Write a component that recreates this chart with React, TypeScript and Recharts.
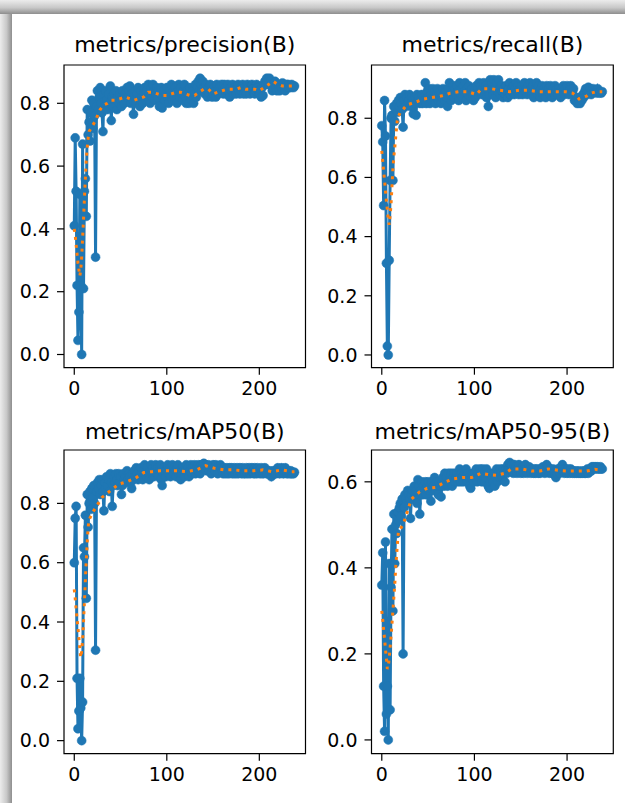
import React from 'react';
import { LineChart, Line, XAxis, YAxis, ReferenceArea } from 'recharts';

const FONT = '"DejaVu Sans", "Liberation Sans", sans-serif';
const BLUE = '#1f77b4';
const ORANGE = '#ff7f0e';

// epochs 0..238
const EPOCHS: number[] = Array.from({ length: 239 }, (_, i) => i);
const X_TICKS = [0, 100, 200];

const PRECISION = [
  0.41, 0.69, 0.52, 0.22, 0.045, 0.135, 0.51, 0.22, 0.0, 0.67,
  0.21, 0.52, 0.56, 0.44, 0.78, 0.70, 0.74, 0.68, 0.77, 0.81,
  0.72, 0.80, 0.76, 0.31, 0.79, 0.84, 0.78, 0.82, 0.85, 0.80,
  0.77, 0.71, 0.83, 0.79, 0.84, 0.81, 0.78, 0.83, 0.80, 0.855,
  0.745, 0.82, 0.79, 0.83, 0.81, 0.84, 0.78, 0.82, 0.80, 0.83,
  0.81, 0.79, 0.84, 0.82, 0.80, 0.83, 0.81, 0.85, 0.82, 0.84,
  0.855, 0.80, 0.83, 0.81, 0.765, 0.82, 0.84, 0.80, 0.83, 0.85,
  0.81, 0.79, 0.84, 0.82, 0.80, 0.83, 0.85, 0.81, 0.84, 0.82,
  0.86, 0.83, 0.80, 0.85, 0.82, 0.86, 0.84, 0.81, 0.83, 0.85,
  0.82, 0.84, 0.79, 0.83, 0.85, 0.785, 0.82, 0.84, 0.81, 0.83,
  0.85, 0.82, 0.80, 0.84, 0.83, 0.86, 0.81, 0.84, 0.82, 0.85,
  0.83, 0.80, 0.84, 0.86, 0.82, 0.85, 0.83, 0.81, 0.84, 0.86,
  0.82, 0.80, 0.84, 0.83, 0.80, 0.85, 0.82, 0.81, 0.84, 0.80,
  0.83, 0.86, 0.82, 0.85, 0.87, 0.84, 0.88, 0.86, 0.84, 0.87,
  0.85, 0.83, 0.86, 0.84, 0.82, 0.85, 0.83, 0.86, 0.84, 0.82,
  0.83, 0.85, 0.84, 0.82, 0.86, 0.84, 0.83, 0.85, 0.84, 0.86,
  0.84, 0.83, 0.86, 0.85, 0.83, 0.84, 0.86, 0.84, 0.82, 0.85,
  0.84, 0.86, 0.83, 0.85, 0.84, 0.83, 0.85, 0.86, 0.84, 0.83,
  0.85, 0.84, 0.86, 0.83, 0.85, 0.84, 0.83, 0.86, 0.85, 0.84,
  0.83, 0.85, 0.86, 0.84, 0.85, 0.83, 0.84, 0.86, 0.85, 0.84,
  0.83, 0.84, 0.82, 0.85, 0.825, 0.86, 0.87, 0.86, 0.88, 0.87,
  0.86, 0.88, 0.87, 0.86, 0.84, 0.85, 0.86, 0.87, 0.85, 0.84,
  0.86, 0.85, 0.84, 0.86, 0.85, 0.865, 0.86, 0.85, 0.84, 0.86,
  0.85, 0.86, 0.85, 0.855, 0.85, 0.86, 0.855, 0.85, 0.855,
];
const PRECISION_SMOOTH_X = [0, 1, 2, 3, 4, 5, 6, 7, 8, 9, 10, 11, 12, 13, 14, 15, 16, 18, 20, 22, 25, 28, 32, 36, 40, 45, 50, 55, 60, 65, 70, 75, 80, 85, 90, 95, 100, 105, 110, 115, 120, 125, 130, 135, 140, 145, 150, 155, 160, 165, 170, 175, 180, 185, 190, 195, 200, 205, 210, 215, 220, 225, 230, 235, 238];
const PRECISION_SMOOTH_Y = [0.40, 0.38, 0.35, 0.32, 0.29, 0.27, 0.25, 0.27, 0.31, 0.37, 0.43, 0.50, 0.56, 0.62, 0.66, 0.69, 0.71, 0.72, 0.73, 0.74, 0.76, 0.78, 0.795, 0.80, 0.81, 0.81, 0.815, 0.82, 0.815, 0.81, 0.815, 0.82, 0.835, 0.835, 0.83, 0.825, 0.825, 0.83, 0.835, 0.835, 0.83, 0.825, 0.825, 0.835, 0.845, 0.845, 0.83, 0.835, 0.84, 0.845, 0.845, 0.845, 0.85, 0.845, 0.845, 0.845, 0.84, 0.85, 0.86, 0.87, 0.86, 0.855, 0.855, 0.855, 0.855];

const RECALL = [
  0.775, 0.72, 0.505, 0.86, 0.74, 0.31, 0.03, 0.0, 0.32, 0.59,
  0.80, 0.81, 0.59, 0.84, 0.79, 0.83, 0.85, 0.82, 0.86, 0.84,
  0.87, 0.85, 0.83, 0.77, 0.86, 0.88, 0.84, 0.87, 0.85, 0.86,
  0.88, 0.84, 0.87, 0.86, 0.815, 0.85, 0.87, 0.81, 0.88, 0.86,
  0.87, 0.85, 0.86, 0.88, 0.85, 0.87, 0.86, 0.92, 0.85, 0.89,
  0.87, 0.90, 0.85, 0.88, 0.86, 0.90, 0.87, 0.89, 0.85, 0.88,
  0.90, 0.86, 0.88, 0.89, 0.85, 0.87, 0.90, 0.88, 0.86, 0.89,
  0.87, 0.84, 0.90, 0.92, 0.88, 0.86, 0.89, 0.91, 0.87, 0.90,
  0.88, 0.91, 0.89, 0.86, 0.92, 0.88, 0.90, 0.87, 0.91, 0.89,
  0.92, 0.86, 0.90, 0.88, 0.91, 0.89, 0.87, 0.90, 0.88, 0.86,
  0.89, 0.87, 0.91, 0.88, 0.90, 0.92, 0.89, 0.91, 0.88, 0.90,
  0.92, 0.89, 0.91, 0.87, 0.90, 0.84, 0.88, 0.93, 0.90, 0.92,
  0.88, 0.93, 0.90, 0.87, 0.92, 0.89, 0.93, 0.90, 0.88, 0.91,
  0.89, 0.87, 0.90, 0.88, 0.91, 0.89, 0.87, 0.90, 0.92, 0.88,
  0.90, 0.89, 0.91, 0.88, 0.90, 0.92, 0.89, 0.91, 0.88, 0.90,
  0.89, 0.91, 0.88, 0.90, 0.92, 0.89, 0.90, 0.88, 0.91, 0.89,
  0.92, 0.90, 0.88, 0.91, 0.87, 0.89, 0.90, 0.92, 0.88, 0.91,
  0.89, 0.87, 0.90, 0.91, 0.88, 0.90, 0.89, 0.87, 0.91, 0.89,
  0.90, 0.88, 0.91, 0.89, 0.87, 0.90, 0.88, 0.91, 0.89, 0.90,
  0.88, 0.90, 0.89, 0.87, 0.90, 0.89, 0.91, 0.88, 0.90, 0.89,
  0.91, 0.89, 0.88, 0.90, 0.91, 0.90, 0.89, 0.90, 0.86, 0.87,
  0.86, 0.85, 0.87, 0.86, 0.85, 0.87, 0.86, 0.88, 0.87, 0.89,
  0.90, 0.88, 0.89, 0.905, 0.89, 0.90, 0.88, 0.895, 0.90, 0.89,
  0.895, 0.89, 0.885, 0.90, 0.89, 0.885, 0.89, 0.885, 0.89,
];
const RECALL_SMOOTH_X = [0, 1, 2, 3, 4, 5, 6, 7, 8, 9, 10, 11, 12, 13, 14, 15, 16, 17, 20, 23, 27, 32, 37, 45, 54, 64, 74, 84, 93, 102, 108, 118, 127, 138, 149, 158, 167, 178, 187, 198, 206, 210, 213, 217, 221, 226, 232, 238];
const RECALL_SMOOTH_Y = [0.69, 0.655, 0.62, 0.59, 0.555, 0.52, 0.49, 0.46, 0.44, 0.47, 0.51, 0.57, 0.63, 0.67, 0.70, 0.735, 0.77, 0.80, 0.82, 0.83, 0.845, 0.85, 0.855, 0.865, 0.87, 0.875, 0.885, 0.89, 0.89, 0.88, 0.90, 0.90, 0.895, 0.89, 0.895, 0.895, 0.89, 0.89, 0.89, 0.89, 0.885, 0.875, 0.865, 0.87, 0.875, 0.885, 0.89, 0.89];

const MAP50 = [
  0.60, 0.75, 0.79, 0.21, 0.04, 0.10, 0.21, 0.11, 0.0, 0.13,
  0.65, 0.62, 0.76, 0.48, 0.83, 0.72, 0.80, 0.84, 0.78, 0.85,
  0.82, 0.86, 0.80, 0.305, 0.84, 0.87, 0.85, 0.88, 0.83, 0.86,
  0.88, 0.84, 0.775, 0.87, 0.85, 0.89, 0.86, 0.88, 0.84, 0.90,
  0.87, 0.79, 0.86, 0.89, 0.87, 0.90, 0.88, 0.86, 0.90, 0.87,
  0.89, 0.83, 0.86, 0.90, 0.88, 0.89, 0.87, 0.91, 0.88, 0.90,
  0.89, 0.87, 0.85, 0.90, 0.88, 0.91, 0.89, 0.92, 0.90, 0.88,
  0.91, 0.89, 0.92, 0.90, 0.88, 0.91, 0.93, 0.90, 0.89, 0.92,
  0.90, 0.88, 0.91, 0.93, 0.90, 0.92, 0.89, 0.91, 0.93, 0.90,
  0.92, 0.89, 0.91, 0.93, 0.88, 0.86, 0.90, 0.92, 0.91, 0.89,
  0.91, 0.93, 0.90, 0.92, 0.89, 0.91, 0.93, 0.90, 0.92, 0.91,
  0.89, 0.92, 0.93, 0.90, 0.91, 0.88, 0.90, 0.92, 0.91, 0.89,
  0.91, 0.93, 0.90, 0.92, 0.89, 0.91, 0.93, 0.90, 0.92, 0.91,
  0.93, 0.90, 0.92, 0.91, 0.93, 0.92, 0.90, 0.93, 0.92, 0.93,
  0.935, 0.92, 0.93, 0.91, 0.92, 0.93, 0.91, 0.92, 0.90, 0.92,
  0.93, 0.92, 0.91, 0.93, 0.92, 0.90, 0.92, 0.91, 0.93, 0.92,
  0.91, 0.90, 0.92, 0.91, 0.90, 0.92, 0.91, 0.90, 0.92, 0.91,
  0.92, 0.90, 0.91, 0.92, 0.90, 0.91, 0.92, 0.90, 0.91, 0.92,
  0.91, 0.90, 0.92, 0.91, 0.90, 0.91, 0.92, 0.90, 0.91, 0.92,
  0.90, 0.91, 0.92, 0.91, 0.90, 0.92, 0.91, 0.90, 0.92, 0.91,
  0.91, 0.90, 0.92, 0.91, 0.90, 0.91, 0.92, 0.91, 0.90, 0.91,
  0.90, 0.91, 0.90, 0.89, 0.90, 0.91, 0.90, 0.91, 0.90, 0.91,
  0.92, 0.91, 0.90, 0.91, 0.92, 0.91, 0.90, 0.91, 0.92, 0.91,
  0.90, 0.91, 0.905, 0.90, 0.91, 0.90, 0.905, 0.90, 0.905,
];
const MAP50_SMOOTH_X = [0, 1, 2, 3, 4, 5, 6, 7, 8, 9, 10, 11, 12, 13, 14, 15, 16, 20, 24, 30, 38, 48, 57, 66, 75, 84, 93, 103, 112, 122, 132, 142, 152, 162, 172, 183, 194, 204, 214, 224, 235, 238];
const MAP50_SMOOTH_Y = [0.51, 0.48, 0.445, 0.41, 0.38, 0.345, 0.31, 0.28, 0.30, 0.34, 0.40, 0.47, 0.54, 0.61, 0.67, 0.72, 0.745, 0.77, 0.79, 0.82, 0.84, 0.865, 0.873, 0.885, 0.904, 0.907, 0.91, 0.91, 0.91, 0.907, 0.913, 0.927, 0.918, 0.913, 0.913, 0.91, 0.91, 0.913, 0.907, 0.913, 0.907, 0.907];

const MAP5095 = [
  0.36, 0.435, 0.125, 0.02, 0.46, 0.06, 0.125, 0.0, 0.41, 0.07,
  0.355, 0.49, 0.30, 0.525, 0.41, 0.50, 0.48, 0.53, 0.51, 0.54,
  0.55, 0.52, 0.56, 0.20, 0.54, 0.57, 0.56, 0.55, 0.58, 0.57,
  0.56, 0.515, 0.57, 0.58, 0.56, 0.59, 0.57, 0.58, 0.55, 0.605,
  0.59, 0.525, 0.58, 0.60, 0.57, 0.59, 0.58, 0.60, 0.57, 0.59,
  0.60, 0.58, 0.59, 0.555, 0.60, 0.58, 0.59, 0.61, 0.58, 0.60,
  0.59, 0.57, 0.60, 0.59, 0.565, 0.60, 0.61, 0.59, 0.62, 0.60,
  0.61, 0.59, 0.62, 0.60, 0.61, 0.62, 0.59, 0.61, 0.62, 0.60,
  0.61, 0.62, 0.60, 0.61, 0.63, 0.60, 0.62, 0.61, 0.60, 0.62,
  0.61, 0.63, 0.60, 0.62, 0.61, 0.59, 0.585, 0.61, 0.62, 0.60,
  0.62, 0.61, 0.63, 0.60, 0.62, 0.61, 0.63, 0.62, 0.60, 0.63,
  0.62, 0.60, 0.61, 0.63, 0.62, 0.59, 0.585, 0.60, 0.62, 0.61,
  0.60, 0.62, 0.59, 0.61, 0.63, 0.60, 0.62, 0.61, 0.63, 0.62,
  0.61, 0.63, 0.62, 0.60, 0.63, 0.62, 0.64, 0.63, 0.645, 0.63,
  0.64, 0.63, 0.62, 0.64, 0.63, 0.635, 0.62, 0.63, 0.64, 0.63,
  0.62, 0.63, 0.635, 0.62, 0.63, 0.64, 0.63, 0.62, 0.63, 0.635,
  0.63, 0.62, 0.63, 0.625, 0.62, 0.63, 0.62, 0.63, 0.625, 0.62,
  0.63, 0.62, 0.625, 0.63, 0.635, 0.63, 0.62, 0.63, 0.64, 0.635,
  0.63, 0.62, 0.63, 0.625, 0.62, 0.63, 0.62, 0.615, 0.61, 0.62,
  0.63, 0.625, 0.62, 0.63, 0.635, 0.64, 0.63, 0.62, 0.63, 0.625,
  0.62, 0.63, 0.625, 0.62, 0.63, 0.625, 0.62, 0.625, 0.62, 0.625,
  0.62, 0.625, 0.62, 0.625, 0.62, 0.62, 0.625, 0.62, 0.625, 0.62,
  0.62, 0.625, 0.63, 0.62, 0.625, 0.63, 0.625, 0.635, 0.63, 0.635,
  0.63, 0.635, 0.63, 0.635, 0.63, 0.63, 0.635, 0.63, 0.63,
];
const MAP5095_SMOOTH_X = [0, 1, 2, 3, 4, 5, 6, 7, 8, 9, 10, 11, 12, 13, 14, 15, 16, 17, 18, 23, 26, 32, 41, 49, 58, 67, 77, 87, 97, 107, 115, 124, 133, 140, 151, 162, 171, 180, 190, 201, 211, 221, 230, 238];
const MAP5095_SMOOTH_Y = [0.30, 0.28, 0.255, 0.235, 0.21, 0.19, 0.165, 0.17, 0.19, 0.215, 0.24, 0.27, 0.30, 0.33, 0.36, 0.40, 0.43, 0.46, 0.485, 0.50, 0.52, 0.56, 0.577, 0.585, 0.587, 0.598, 0.607, 0.61, 0.61, 0.62, 0.617, 0.615, 0.62, 0.63, 0.63, 0.625, 0.625, 0.63, 0.627, 0.625, 0.625, 0.625, 0.629, 0.627];

const toPoints = (xs: number[], ys: number[]) => xs.map((x, i) => ({ x, y: ys[i] }));

type PanelProps = {
  left: number;
  top: number;
  yAxisWidth: number;
  plotWidth: number;
  plotTop: number;
  plotHeight: number;
  title: string;
  titleBaseline: number;
  values: number[];
  smoothX: number[];
  smoothY: number[];
  yDomain: [number, number];
  yTicks: number[];
  xDomain: [number, number];
};

const TICK_STYLE = { fill: '#000', fontSize: 19, fontFamily: FONT };
const X_AXIS_HEIGHT = 40;
const RIGHT_PAD = 4;

function Axes({ p, show }: { p: PanelProps; show: boolean }) {
  return [
    <XAxis
      key="x"
      dataKey="x"
      type="number"
      domain={p.xDomain}
      ticks={X_TICKS}
      allowDataOverflow
      height={X_AXIS_HEIGHT}
      axisLine={false}
      tickLine={show ? { stroke: '#000', strokeWidth: 1.2 } : false}
      tickSize={7}
      tickMargin={7}
      tick={show ? TICK_STYLE : false}
      interval={0}
    />,
    <YAxis
      key="y"
      type="number"
      domain={p.yDomain}
      ticks={p.yTicks}
      allowDataOverflow
      width={p.yAxisWidth}
      axisLine={false}
      tickLine={show ? { stroke: '#000', strokeWidth: 1.2 } : false}
      tickSize={7}
      tickMargin={7}
      tick={show ? TICK_STYLE : false}
      tickFormatter={(v: number) => v.toFixed(1)}
      interval={0}
    />,
  ];
}

function Panel(p: PanelProps) {
  const width = p.yAxisWidth + p.plotWidth + RIGHT_PAD;
  const height = p.plotTop + p.plotHeight + X_AXIS_HEIGHT;
  const data = toPoints(EPOCHS, p.values);
  const smooth = toPoints(p.smoothX, p.smoothY);
  const titleSize = 22;
  const margin = { top: p.plotTop, right: RIGHT_PAD, bottom: 0, left: 0 };
  const layer: React.CSSProperties = { position: 'absolute', left: 0, top: 0 };
  return (
    <div style={{ position: 'absolute', left: p.left, top: p.top, width, height }}>
      <div
        style={{
          position: 'absolute',
          left: p.yAxisWidth,
          width: p.plotWidth,
          top: p.titleBaseline - titleSize * 0.846,
          fontSize: titleSize,
          lineHeight: `${titleSize}px`,
          fontFamily: FONT,
          color: '#000',
          textAlign: 'center',
          whiteSpace: 'nowrap',
        }}
      >
        {p.title}
      </div>
      <div style={layer}>
        <LineChart width={width} height={height} margin={margin}>
          {Axes({ p, show: true })}
          <Line
            data={data}
            dataKey="y"
            type="linear"
            stroke={BLUE}
            strokeWidth={3}
            dot={{ r: 4.5, fill: BLUE, stroke: BLUE, strokeWidth: 0.5 }}
            activeDot={false}
            isAnimationActive={false}
          />
        </LineChart>
      </div>
      <div style={layer}>
        <LineChart width={width} height={height} margin={margin}>
          {Axes({ p, show: false })}
          <Line
            data={smooth}
            dataKey="y"
            type="linear"
            stroke={ORANGE}
            strokeWidth={3}
            strokeDasharray="3 5"
            dot={false}
            activeDot={false}
            isAnimationActive={false}
          />
          <ReferenceArea
            x1={p.xDomain[0]}
            x2={p.xDomain[1]}
            y1={p.yDomain[0]}
            y2={p.yDomain[1]}
            fill="none"
            stroke="#000"
            strokeWidth={1.2}
            ifOverflow="visible"
          />
        </LineChart>
      </div>
    </div>
  );
}

const X_DOMAIN: [number, number] = [-11.1, 249.9];
const Y_TICKS_A = [0, 0.2, 0.4, 0.6, 0.8];
const Y_TICKS_B = [0, 0.2, 0.4, 0.6];

export default function App() {
  return (
    <div
      style={{
        position: 'absolute',
        left: 0,
        top: 0,
        width: 625,
        height: 803,
        background: '#fff',
        overflow: 'hidden',
      }}
    >
      <div
        style={{
          position: 'absolute',
          left: 0,
          top: 0,
          width: 625,
          height: 14,
          background: 'linear-gradient(to bottom, #ececec, #c8c8c8 55%, #8e8e8e)',
        }}
      />
      <div
        style={{
          position: 'absolute',
          left: 0,
          top: 14,
          width: 12,
          height: 789,
          background: 'linear-gradient(to right, #ececec, #c8c8c8 55%, #8e8e8e)',
        }}
      />
      <Panel
        left={0}
        top={0}
        yAxisWidth={64}
        plotWidth={241.5}
        plotTop={65}
        plotHeight={302.7}
        title="metrics/precision(B)"
        titleBaseline={53}
        values={PRECISION}
        smoothX={PRECISION_SMOOTH_X}
        smoothY={PRECISION_SMOOTH_Y}
        yDomain={[-0.042, 0.922]}
        yTicks={Y_TICKS_A}
        xDomain={X_DOMAIN}
      />
      <Panel
        left={310}
        top={0}
        yAxisWidth={61.5}
        plotWidth={241.8}
        plotTop={65}
        plotHeight={302.7}
        title="metrics/recall(B)"
        titleBaseline={53}
        values={RECALL}
        smoothX={RECALL_SMOOTH_X}
        smoothY={RECALL_SMOOTH_Y}
        yDomain={[-0.043, 0.98]}
        yTicks={Y_TICKS_A}
        xDomain={X_DOMAIN}
      />
      <Panel
        left={0}
        top={400}
        yAxisWidth={64}
        plotWidth={241.5}
        plotTop={50}
        plotHeight={303.7}
        title="metrics/mAP50(B)"
        titleBaseline={39.3}
        values={MAP50}
        smoothX={MAP50_SMOOTH_X}
        smoothY={MAP50_SMOOTH_Y}
        yDomain={[-0.044, 0.98]}
        yTicks={Y_TICKS_A}
        xDomain={X_DOMAIN}
      />
      <Panel
        left={310}
        top={400}
        yAxisWidth={61.5}
        plotWidth={241.8}
        plotTop={50}
        plotHeight={303.7}
        title="metrics/mAP50-95(B)"
        titleBaseline={39.3}
        values={MAP5095}
        smoothX={MAP5095_SMOOTH_X}
        smoothY={MAP5095_SMOOTH_Y}
        yDomain={[-0.032, 0.674]}
        yTicks={Y_TICKS_B}
        xDomain={X_DOMAIN}
      />
    </div>
  );
}
